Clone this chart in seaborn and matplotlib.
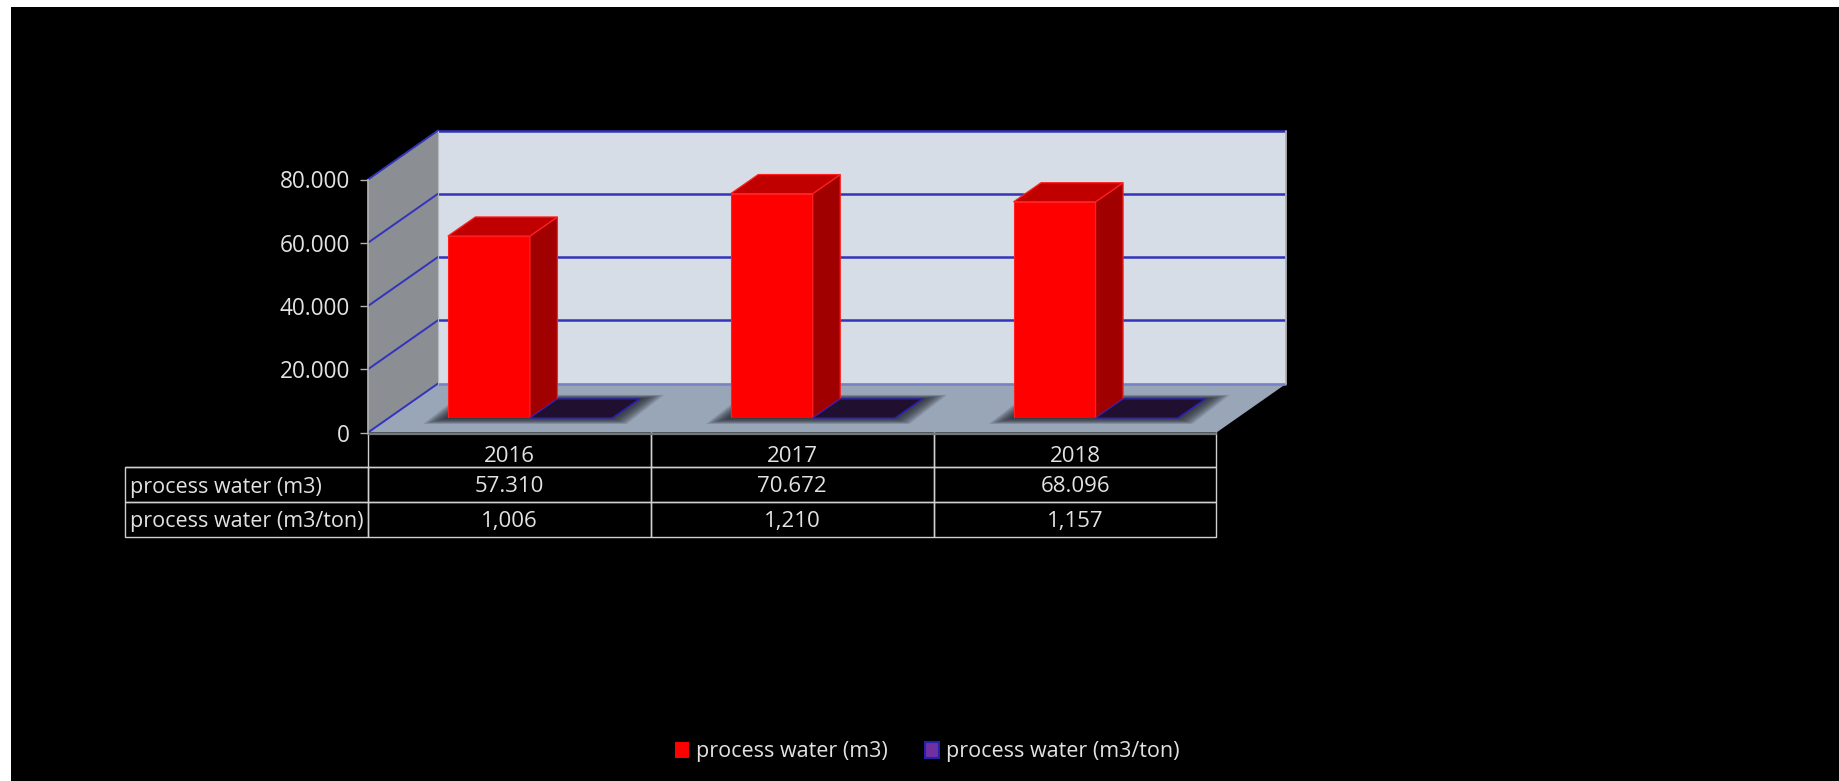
import numpy as np
import pandas as pd
import seaborn as sns
import matplotlib.pyplot as plt
from matplotlib.patches import Polygon, Rectangle
from matplotlib.ticker import FuncFormatter

# Data
years = ['2016', '2017', '2018']
water_m3 = [57310, 70672, 68096]
water_m3_ton = [1.006, 1.210, 1.157]
series_names = ['process water (m3)', 'process water (m3/ton)']
y_ticks = [0, 20000, 40000, 60000, 80000]

W, H = 1840, 781
TXT = '#e2e2e2'
BLUE = '#3333bb'
GREY = '#b0b0b0'

sns.set_theme(style='white')
plt.rcParams['font.family'] = ['Open Sans', 'DejaVu Sans']
plt.rcParams['font.size'] = 16

df = pd.DataFrame({
    'year': years * 2,
    'series': [series_names[0]] * 3 + [series_names[1]] * 3,
    'value': water_m3 + water_m3_ton,
})


def box(x0, y_top, x1, y_bottom):
    # pixel box to figure fractions
    return [x0 / W, 1 - y_bottom / H, (x1 - x0) / W, (y_bottom - y_top) / H]


fig = plt.figure(figsize=(W / 100, H / 100), dpi=100, facecolor='white')
fig.add_artist(Rectangle((11 / W, 0), 1 - 11 / W, 1 - 7 / H, transform=fig.transFigure,
                         facecolor='black', edgecolor='none', zorder=-5))

# front plane of the chart box, carries the y axis and the years
ax = fig.add_axes(box(368, 179.5, 1216.5, 432.5), zorder=1)
ax.patch.set_visible(False)
ax.set_xlim(-0.5, 2.5)
ax.set_ylim(0, 80000)

# one pixel in data units
px_x = 3 / 848.5
px_y = 80000 / 253
wall_dx = 70 * px_x
wall_dy = 49 * px_y
x0, x1 = -0.5, 2.5


def face(axes, pts, **kw):
    axes.add_patch(Polygon(pts, closed=True, clip_on=False, **kw))


# walls and floor
face(ax, [(x0 + wall_dx, wall_dy), (x1 + wall_dx, wall_dy), (x1 + wall_dx, 80000 + wall_dy), (x0 + wall_dx, 80000 + wall_dy)],
     facecolor='#d6dde6', edgecolor='none', zorder=0.1)
face(ax, [(x0, 0), (x0 + wall_dx, wall_dy), (x0 + wall_dx, 80000 + wall_dy), (x0, 80000)],
     facecolor='#8b8e93', edgecolor='none', zorder=0.1)
face(ax, [(x0, 0), (x0 + wall_dx, wall_dy), (x1 + wall_dx, wall_dy), (x1, 0)],
     facecolor='#99a6b8', edgecolor='none', zorder=0.2)

for v in y_ticks:
    lc = '#7a80c4' if v == 0 else BLUE
    ax.plot([x0 + wall_dx, x1 + wall_dx], [v + wall_dy] * 2, color=lc, lw=1.8,
            clip_on=False, zorder=0.3, solid_capstyle='butt')
    ax.plot([x0, x0 + wall_dx], [v, v + wall_dy], color=BLUE, lw=1.4,
            clip_on=False, zorder=0.3)
ax.plot([x1 + wall_dx] * 2, [wall_dy, 80000 + wall_dy], color=GREY, lw=1.3, clip_on=False, zorder=0.3)
ax.plot([x0 + wall_dx] * 2, [wall_dy, 80000 + wall_dy], color='#b5b8bd', lw=0.8, clip_on=False, zorder=0.3)
ax.plot([x0, x1], [-1 * px_y] * 2, color='#777777', lw=1.6, clip_on=False, zorder=0.4)

sns.despine(ax=ax, left=False, bottom=True, right=True, top=True)
ax.spines['left'].set_color(GREY)
ax.set_yticks(y_ticks)
ax.yaxis.set_major_formatter(FuncFormatter(lambda v, pos: f'{int(v):,}'.replace(',', '.')))
ax.tick_params(axis='y', length=5.5, width=1, color=GREY, labelcolor=TXT, labelsize=16.3, pad=7.5, left=True)
ax.set_xticks(range(len(years)), years)
ax.tick_params(axis='x', length=0, labelcolor=TXT, labelsize=16, pad=10)
ax.set_xlabel('')
ax.set_ylabel('')

# data table under the chart
cells = [[''] * 4,
         [series_names[0]] + [f'{v:,}'.replace(',', '.') for v in water_m3],
         [series_names[1]] + [f'{v:.3f}'.replace('.', ',') for v in water_m3_ton]]
table = ax.table(cellText=cells, colWidths=[243.5, 282.8, 282.8, 282.8], cellLoc='center',
                 bbox=[-243.5 / 848.5, -104 / 253, (848.5 + 243.5) / 848.5, 104 / 253])
table.auto_set_font_size(False)
table.set_fontsize(16)
for (r, c), cell in table.get_celld().items():
    cell.set_facecolor('none')
    cell.set_edgecolor('#d0d0d0')
    cell.set_linewidth(1)
    cell.get_text().set_color(TXT)
    cell.get_text().set_va('center_baseline')
    if c == 0:
        cell.get_text().set_ha('left')
        cell.get_text().set_fontsize(15.5)
        cell.PAD = 0.023
    if r == 0:
        cell.visible_edges = 'B' if c == 0 else 'LRB'

# the bars stand half way into the floor, so their plane is shifted
bar_ax = fig.add_axes(box(388.5, 164, 1237, 418), zorder=2)
sns.barplot(data=df, x='year', y='value', hue='series', order=years, hue_order=series_names,
            palette=['#ff0000', '#7030a0'], width=0.58, saturation=1, ax=bar_ax)
bar_ax.set_xlim(-0.5, 2.5)
bar_ax.set_ylim(0, 80000)
handles, labels = bar_ax.get_legend_handles_labels()
bar_ax.get_legend().remove()
bar_ax.axis('off')

bar_dx = 27.5 * px_x
bar_dy = 19 * px_y
styles = [
    dict(top='#c00000', side='#a00000', edge='#ff2020'),
    dict(top='#200f2e', side='#200f2e', edge='#2a20b4'),
]

# soft shadow round the foot of each pair
red_bars, purple_bars = bar_ax.containers[0], bar_ax.containers[1]
for rb, pb in zip(red_bars, purple_bars):
    left = rb.get_x()
    right = pb.get_x() + pb.get_width()
    for t in np.linspace(1, 0.08, 14):
        ex = 25 * t * px_x
        fr = 6 * t * px_y
        bk = 4 * t * px_y
        face(bar_ax, [(left - ex, -fr), (right + ex * 0.6, -fr),
                      (right + bar_dx + ex, bar_dy + bk), (left + bar_dx - ex * 0.6, bar_dy + bk)],
             facecolor='#20222c', edgecolor='none', alpha=0.1, zorder=0.5)

for bars, st in zip(bar_ax.containers, styles):
    for b in bars:
        x, w, v = b.get_x(), b.get_width(), b.get_height()
        b.set_edgecolor(st['edge'])
        b.set_linewidth(0.8)
        face(bar_ax, [(x + w, 0), (x + w + bar_dx, bar_dy), (x + w + bar_dx, v + bar_dy), (x + w, v)],
             facecolor=st['side'], edgecolor=st['edge'], lw=0.9, zorder=1.1)
        face(bar_ax, [(x, v), (x + bar_dx, v + bar_dy), (x + w + bar_dx, v + bar_dy), (x + w, v)],
             facecolor=st['top'], edgecolor=st['edge'], lw=0.9, zorder=1.2)

handles[0].set_edgecolor('#ff0000')
handles[0].set_linewidth(0)
handles[1].set_edgecolor('#2222aa')
handles[1].set_linewidth(1.5)
fig.legend(handles, labels, loc='center', bbox_to_anchor=(927 / W, 1 - 752 / H), ncol=2, frameon=False,
           fontsize=15.5, labelcolor=TXT, handlelength=0.66, handleheight=0.7,
           handletextpad=0.3, columnspacing=1.75)

fig.savefig('out.png', dpi=100, facecolor=fig.get_facecolor())
